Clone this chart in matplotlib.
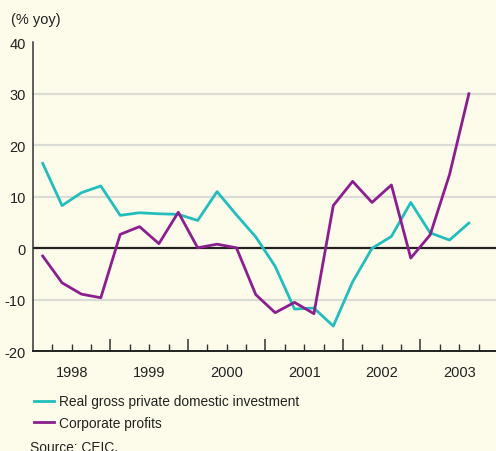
import numpy as np
import matplotlib.pyplot as plt
from matplotlib.lines import Line2D

plt.rcParams['font.family'] = ['Liberation Sans', 'DejaVu Sans']
plt.rcParams['axes.unicode_minus'] = False

years = ['1998', '1999', '2000', '2001', '2002', '2003']
# quarterly, 1998Q1 .. 2003Q3
investment = [16.5, 8.3, 10.8, 12.1, 6.4, 6.9, 6.7, 6.6, 5.4, 11.0, 6.5, 2.2,
              -3.5, -11.8, -11.6, -15.1, -6.5, 0.0, 2.3, 8.9, 3.0, 1.6, 4.9]
profits = [-1.5, -6.7, -8.9, -9.6, 2.7, 4.2, 0.9, 7.0, 0.1, 0.8, 0.1, -9.0,
           -12.5, -10.5, -12.7, 8.3, 13.0, 8.9, 12.3, -1.9, 2.6, 14.3, 30.0]

bg = '#fdfbea'
teal = '#22bebe'
purple = '#8c1f8f'

fig = plt.figure(figsize=(4.96, 4.52), dpi=100, facecolor=bg)
ax = fig.add_axes([33/496, 99.7/452, 1 - 33/496, 309/452], facecolor=bg)

x = np.arange(len(investment)) + 0.5
for g in [-10, 10, 20, 30]:
    ax.axhline(g, color='#dcdcd6', lw=1.6, zorder=1)
ax.axhline(0, color='#222222', lw=1.6, zorder=2)

ax.plot(x, investment, color=teal, lw=2.0, zorder=3)
ax.plot(x, profits, color=purple, lw=2.0, zorder=4)

ax.set_xlim(0, 23.9)
ax.set_ylim(-20, 40)
ax.set_yticks([-20, -10, 0, 10, 20, 30, 40])
ax.tick_params(axis='y', length=0, labelsize=10.5, pad=5, colors='#222222')
ax.set_xticks(np.arange(4, 24, 4))
ax.set_xticks(np.arange(1, 24), minor=True)
ax.tick_params(axis='x', which='major', direction='in', length=9, width=1.1,
               color='#333333', labelbottom=False)
ax.tick_params(axis='x', which='minor', direction='in', length=5, width=1.0,
               color='#333333')
for i, yr in enumerate(years):
    ax.text(4 * i + 2, -0.068, yr, transform=ax.get_xaxis_transform(),
            ha='center', va='center', fontsize=10.5, color='#222222')

for s in ['top', 'right']:
    ax.spines[s].set_visible(False)
ax.spines['left'].set_color('#333333')
ax.spines['left'].set_linewidth(1.1)
ax.spines['bottom'].set_color('#222222')
ax.spines['bottom'].set_linewidth(1.4)

fig.text(11/496, 1 - 20/452, '(% yoy)', ha='left', va='center',
         fontsize=10.5, color='#222222')

handles = [Line2D([], [], color=teal, lw=2.0), Line2D([], [], color=purple, lw=2.0)]
labels = ['Real gross private domestic investment', 'Corporate profits']
fig.legend(handles, labels, loc='upper left', bbox_to_anchor=(22/496, 1 - 383/452),
           frameon=False, fontsize=9.9, handlelength=1.45, handletextpad=0.35,
           labelspacing=0.55, labelcolor='#222222')

fig.text(30/496, 1 - 448/452, 'Source: CEIC.', ha='left', va='center',
         fontsize=9.9, color='#222222')

fig.savefig('out.png', dpi=100, facecolor=bg)
